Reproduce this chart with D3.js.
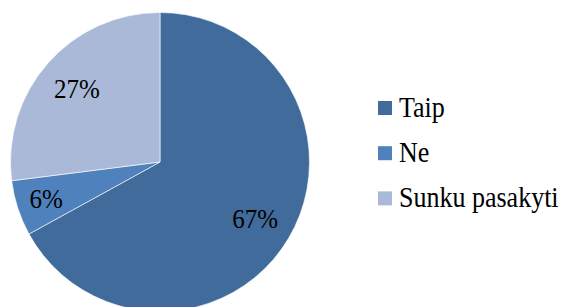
<!DOCTYPE html>
<html>
<head>
<meta charset="utf-8">
<script src="https://cdn.jsdelivr.net/npm/d3@7"></script>
<style>
  body { margin: 0; background: #fff; }
</style>
</head>
<body>
<svg width="563" height="307"></svg>
<script>
const categories = ['Taip', 'Ne', 'Sunku pasakyti'];
const values = [67, 6, 27];
const labels = ['67%', '6%', '27%'];
const colors = ['#416b9b', '#4f81bd', '#aab9d7'];

const svg = d3.select('svg');

const cx = 160;
const cy = 162;
const radius = 149.5;
// glyphs in the original look a touch taller than wide
const stretch = 1.1;

const data = categories.map((c, i) => ({ name: c, value: values[i], label: labels[i], color: colors[i] }));

const pie = d3.pie()
	.value(d => d.value)
	.sort(null);

const arc = d3.arc()
	.innerRadius(0)
	.outerRadius(radius);

const g = svg.append('g')
	.attr('transform', `translate(${cx}, ${cy})`);

const arcs = pie(data);

g.selectAll('path')
	.data(arcs)
	.enter().append('path')
	.attr('d', arc)
	.attr('fill', d => d.data.color)
	.attr('stroke', '#ffffff')
	.attr('stroke-width', 0.6);

// labels sit around three quarters out, the thin slice a bit further
const labelPos = d => {
	const r = d.endAngle - d.startAngle < 0.5 ? radius * 0.8 : radius * 0.74;
	return d3.arc().innerRadius(r).outerRadius(r).centroid(d);
};

g.selectAll('.pct')
	.data(arcs)
	.enter().append('text')
	.attr('class', 'pct')
	.attr('transform', d => `translate(${labelPos(d)[0]}, ${labelPos(d)[1] + 9.5}) scale(1, ${stretch})`)
	.attr('text-anchor', 'middle')
	.attr('font-family', 'Liberation Serif')
	.attr('font-size', 25)
	.attr('fill', '#000')
	.text(d => d.data.label);

const legend = svg.append('g')
	.attr('transform', 'translate(378, 101)');

const item = legend.selectAll('g')
	.data(data)
	.enter().append('g')
	.attr('transform', (d, i) => `translate(0, ${i * 45.2})`);

item.append('rect')
	.attr('width', 14)
	.attr('height', 14)
	.attr('fill', d => d.color);

item.append('text')
	.attr('transform', `translate(21, 15.7) scale(1, ${stretch})`)
	.attr('font-family', 'Liberation Serif')
	.attr('font-size', 26)
	.attr('fill', '#000')
	.text(d => d.name);
</script>
</body>
</html>
